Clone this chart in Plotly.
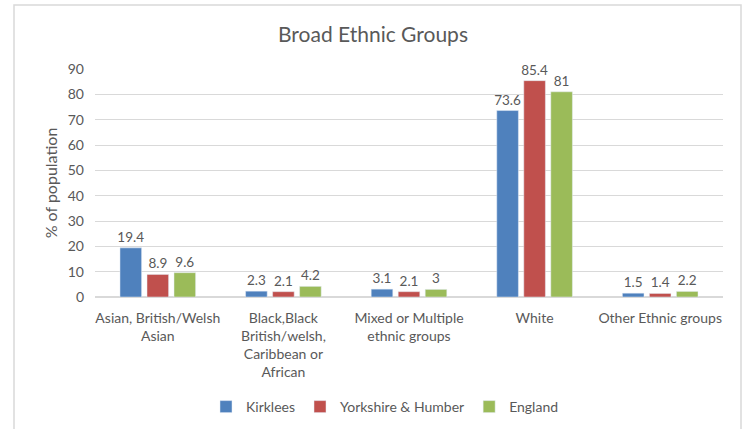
import plotly.graph_objects as go

categories = ["Asian, British/Welsh<br>Asian",
              "Black,Black<br>British/welsh,<br>Caribbean or<br>African",
              "Mixed or Multiple<br>ethnic groups",
              "White",
              "Other Ethnic groups"]
kirklees = [19.4, 2.3, 3.1, 73.6, 1.5]
yorkshire = [8.9, 2.1, 2.1, 85.4, 1.4]
england = [9.6, 4.2, 3, 81, 2.2]
series_names = ["Kirklees", "Yorkshire & Humber", "England"]
colors = ["#4F81BD", "#C0504D", "#9BBB59"]
y_ticks = [0, 10, 20, 30, 40, 50, 60, 70, 80, 90]

FONT = "Lato, 'Open Sans', sans-serif"
GREY = "#595959"

W, H = 746, 429
M_L, M_R, M_T, M_B = 95, 23, 69, 132
PLOT_H = H - M_T - M_B
PLOT_W = W - M_L - M_R
Y0 = H - M_B  # pixel row of the plot bottom


def py(pix):
    return (Y0 - pix) / PLOT_H


def px(pix):
    return (pix - M_L) / PLOT_W


fig = go.Figure()
for name, vals, col in zip(series_names, [kirklees, yorkshire, england], colors):
    fig.add_trace(go.Bar(
        x=categories, y=vals, name=name, marker_color=col,
        text=[str(v) for v in vals], textposition="outside",
        textfont=dict(color=GREY, size=13.5, family=FONT),
        constraintext="none", cliponaxis=False,
    ))

fig.update_layout(
    width=W, height=H,
    autosize=False,
    margin=dict(l=M_L, r=M_R, t=M_T, b=M_B, autoexpand=False),
    paper_bgcolor="white", plot_bgcolor="white",
    barmode="group", bargap=0.355, bargroupgap=0.2,
    title=dict(text="Broad Ethnic Groups", x=0.5, xanchor="center",
               y=1 - 35 / H, yanchor="middle",
               font=dict(size=21, color=GREY, family=FONT)),
    font=dict(family=FONT, color=GREY, size=14),
    showlegend=True,
    legend=dict(orientation="h", x=px(385), xanchor="center", y=py(407), yanchor="middle",
                font=dict(size=14, color=GREY, family=FONT), itemwidth=30,
                traceorder="normal"),
)
fig.update_yaxes(range=[0, 90], tickvals=y_ticks, showgrid=True, gridcolor="#d9d9d9",
                 gridwidth=1, zeroline=True, zerolinecolor="#d9d9d9", showline=False,
                 ticks="", ticklabelstandoff=10, automargin=False,
                 title=dict(text="% of population", font=dict(size=16, color=GREY, family=FONT),
                            standoff=6),
                 tickfont=dict(size=14, color=GREY, family=FONT))
fig.update_xaxes(showline=True, linecolor="#d9d9d9", ticks="", tickangle=0,
                 ticklabelstandoff=8, automargin=False,
                 tickfont=dict(size=14, color=GREY, family=FONT))

fig.add_shape(type="rect", xref="paper", yref="paper",
              x0=px(14), x1=px(741), y0=py(445), y1=py(5),
              line=dict(color="#d9d9d9", width=1.5), fillcolor="rgba(0,0,0,0)", layer="below")

fig.write_html("out.html", config={"displayModeBar": False},
               post_script="document.body.style.margin='0';document.body.style.overflow='hidden';")
